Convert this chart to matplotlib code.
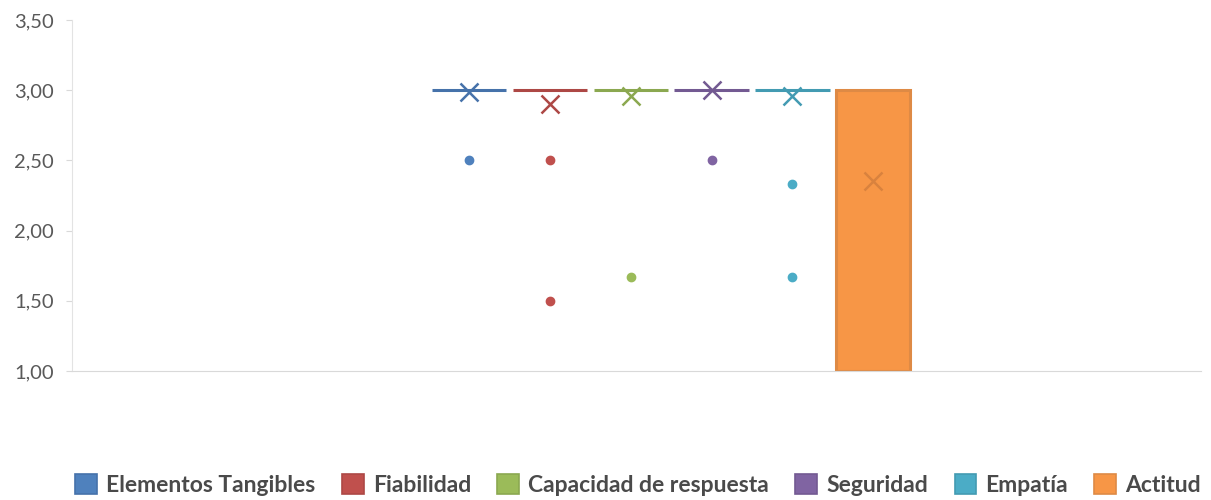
import numpy as np
import matplotlib.pyplot as plt
from matplotlib.patches import Patch

plt.rcParams['font.family'] = ['Lato', 'DejaVu Sans']

# data
series = ['Elementos Tangibles', 'Fiabilidad', 'Capacidad de respuesta',
          'Seguridad', 'Empatía', 'Actitud']
q1 = [3.00, 3.00, 3.00, 3.00, 3.00, 1.00]
q3 = [3.00, 3.00, 3.00, 3.00, 3.00, 3.00]
means = [2.99, 2.90, 2.96, 3.00, 2.96, 2.35]
outliers = [[2.50], [2.50, 1.50], [1.67], [2.50], [2.33, 1.67], []]
colors = ['#4F81BD', '#C0504D', '#9BBB59', '#8064A2', '#4BACC6', '#F79646']
edges = ['#4672AA', '#AD4845', '#8BA850', '#735A92', '#439BB2', '#DE8A45']
yticks = [1.0, 1.5, 2.0, 2.5, 3.0, 3.5]

fig = plt.figure(figsize=(12.11, 5.0), dpi=100)
ax = fig.add_axes([0.0595, 0.258, 0.932, 0.702])

x = np.arange(len(series))
ax.bar(x, np.array(q3) - np.array(q1), bottom=q1, width=0.92,
       color=colors, edgecolor=edges, linewidth=2.2, zorder=2)

for i in range(len(series)):
    ax.plot(x[i], means[i], marker='x', markersize=13, mew=1.8,
            color=edges[i] if i < 5 else '#D9823E', linestyle='none', zorder=3)
    if outliers[i]:
        ax.plot([x[i]] * len(outliers[i]), outliers[i], marker='o', markersize=6,
                color=colors[i], linestyle='none', zorder=3)

ax.set_xlim(-4.91, 9.05)
ax.set_ylim(1.0, 3.5)
ax.set_yticks(yticks)
ax.yaxis.set_major_formatter(plt.FuncFormatter(lambda v, p: ('%.2f' % v).replace('.', ',')))
ax.set_xticks([])
ax.tick_params(axis='y', colors='#D9D9D9', labelcolor='#595959', labelsize=14.5,
               length=4, pad=9)
for s in ['top', 'right']:
    ax.spines[s].set_visible(False)
ax.spines['left'].set_color('#E3E3E3')
ax.spines['bottom'].set_color('#D9D9D9')

handles = [Patch(facecolor=c, edgecolor=e, linewidth=1.2) for c, e in zip(colors, edges)]
leg = fig.legend(handles, series, loc='center', bbox_to_anchor=(0.527, 0.03),
                 ncol=6, frameon=False, handlelength=0.95, handleheight=0.95,
                 handletextpad=0.4, columnspacing=1.15,
                 prop={'size': 16.5, 'weight': 'bold'})
for t in leg.get_texts():
    t.set_color('#4A4A4A')

fig.savefig('out.png', dpi=100)
